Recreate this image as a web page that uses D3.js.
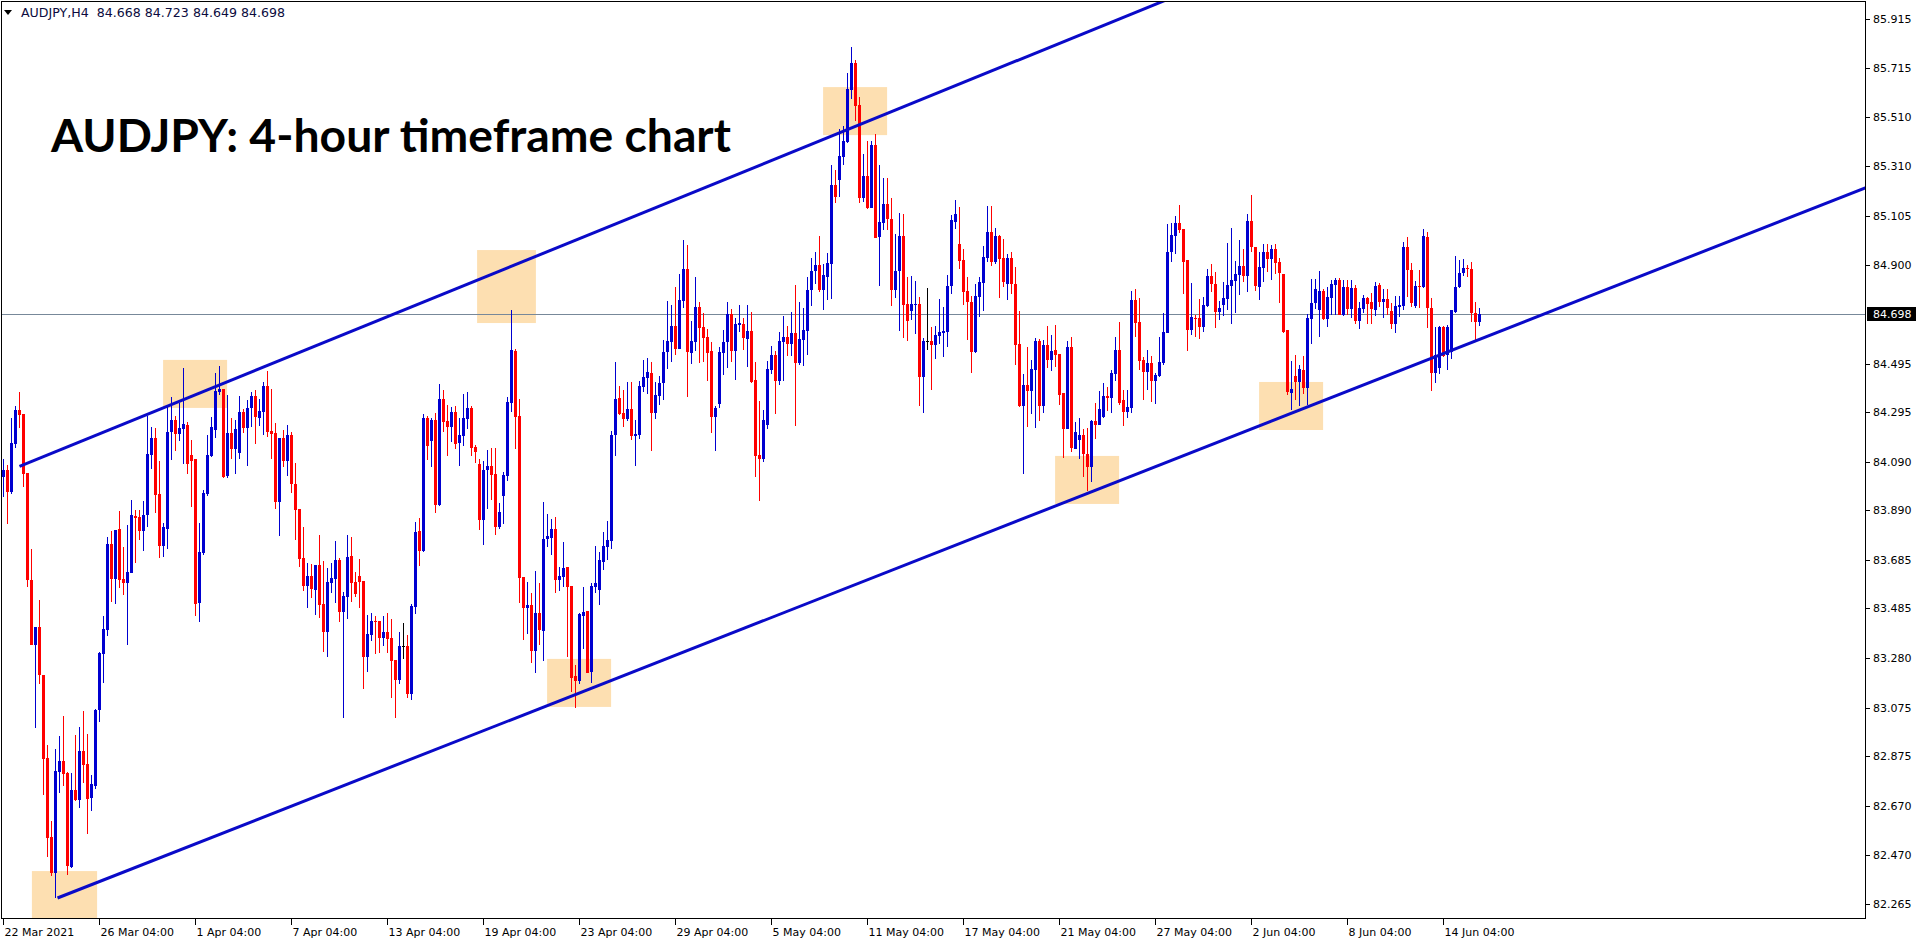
<!DOCTYPE html>
<html><head><meta charset="utf-8">
<script src="https://cdn.jsdelivr.net/npm/d3@7"></script>
<style>html,body{margin:0;padding:0;background:#fff;overflow:hidden}</style>
</head><body><svg id="c" width="1916" height="946"></svg>
<script>
// ---------- DATA ----------
const opens=[
84.027,84.055,83.965,84.164,84.303,84.286,84.044,83.603,83.334,83.409,
83.210,82.868,82.543,82.394,82.811,82.854,82.808,82.418,82.737,82.697,
82.898,82.844,82.704,82.754,83.067,83.298,83.397,83.751,83.606,83.812,
83.606,83.589,83.632,83.866,83.862,83.806,83.870,84.119,84.188,83.957,
83.742,83.814,84.213,84.262,84.204,84.225,84.241,84.118,84.101,83.506,
83.712,83.957,84.114,84.221,84.376,84.389,84.030,84.208,84.143,84.126,
84.295,84.229,84.312,84.361,84.270,84.295,84.402,84.217,84.208,83.924,
84.188,84.093,84.200,83.998,83.895,83.693,83.578,83.619,83.561,83.664,
83.503,83.388,83.590,83.606,83.685,83.470,83.532,83.701,83.594,83.619,
83.598,83.285,83.375,83.433,83.433,83.363,83.388,83.363,83.272,83.190,
83.330,83.330,83.132,83.491,83.804,83.722,84.270,84.175,84.262,83.912,
84.349,84.258,84.233,84.295,84.167,84.196,84.266,84.312,84.151,84.081,
83.850,84.056,84.072,84.039,83.820,83.948,84.031,84.332,84.546,84.278,
83.614,83.486,83.499,83.309,83.466,83.391,83.771,83.775,83.812,83.602,
83.614,83.655,83.577,83.206,83.185,83.453,83.474,83.222,83.573,83.561,
83.676,83.738,83.763,84.200,84.352,84.290,84.266,84.307,84.196,84.200,
84.398,84.435,84.456,84.292,84.361,84.414,84.542,84.583,84.649,84.555,
84.752,84.884,84.538,84.583,84.728,84.645,84.604,84.546,84.274,84.328,
84.538,84.583,84.699,84.546,84.654,84.658,84.596,84.629,84.427,84.117,
84.101,84.241,84.468,84.530,84.423,84.583,84.604,84.575,84.620,84.496,
84.592,84.629,84.798,84.876,84.901,84.798,84.853,84.905,85.231,85.251,
85.346,85.408,85.623,85.734,85.561,85.177,85.268,85.136,85.396,85.016,
85.074,85.152,85.091,84.798,84.876,85.020,84.740,84.711,84.736,84.740,
84.439,84.587,84.587,84.571,84.608,84.620,84.625,84.814,85.078,84.990,
84.922,84.794,84.749,84.544,84.770,84.827,84.931,85.038,84.915,85.021,
84.931,84.825,84.931,84.821,84.576,84.320,84.407,84.381,84.469,84.588,
84.320,84.572,84.511,84.551,84.535,84.374,84.227,84.565,84.144,84.180,
84.201,84.120,84.069,84.260,84.243,84.276,84.363,84.353,84.450,84.551,
84.345,84.297,84.312,84.757,84.667,84.510,84.460,84.499,84.423,84.445,
84.499,84.620,84.953,85.019,85.076,85.050,84.920,84.635,84.684,84.684,
84.647,84.731,84.856,84.821,84.709,84.737,84.763,84.815,84.837,84.862,
84.898,84.854,85.083,84.975,84.811,84.889,84.955,84.925,84.966,84.914,
84.865,84.634,84.374,84.443,84.418,84.468,84.395,84.680,84.744,84.715,
84.794,84.680,84.766,84.818,84.839,84.695,84.809,84.720,84.805,84.671,
84.721,84.766,84.750,84.717,84.817,84.750,84.761,84.710,84.660,84.729,
84.732,84.975,84.879,84.732,84.814,84.809,85.018,84.725,84.457,84.475,
84.645,84.530,84.544,84.709,84.809,84.867,84.887,84.884,84.702,84.668];
const highs=[
84.103,84.075,84.271,84.320,84.377,84.286,84.044,83.731,83.409,83.518,
83.210,82.922,82.609,82.907,82.957,83.043,82.811,82.808,82.964,82.996,
83.064,82.967,82.798,83.071,83.305,83.454,83.779,83.805,83.808,83.887,
83.738,83.829,83.933,83.892,83.892,83.930,84.278,84.235,84.228,84.093,
83.838,84.320,84.356,84.279,84.331,84.477,84.254,84.180,84.101,83.839,
83.975,84.200,84.274,84.457,84.485,84.389,84.365,84.270,84.262,84.361,
84.307,84.345,84.378,84.386,84.349,84.419,84.464,84.390,84.250,84.188,
84.221,84.241,84.213,84.085,83.895,83.821,83.672,83.668,83.664,83.788,
83.681,83.652,83.672,83.763,83.693,83.553,83.788,83.780,83.635,83.689,
83.598,83.458,83.466,83.454,83.433,83.454,83.466,83.441,83.272,83.388,
83.425,83.375,83.503,83.842,83.858,84.287,84.279,84.270,84.291,84.411,
84.386,84.324,84.316,84.320,84.270,84.369,84.378,84.320,84.159,84.101,
84.093,84.138,84.146,84.146,83.919,84.047,84.357,84.715,84.554,84.348,
83.614,83.594,83.548,83.639,83.589,83.924,83.874,83.853,83.862,83.655,
83.759,83.655,83.577,83.251,83.466,83.573,83.474,83.589,83.742,83.717,
83.800,83.845,84.216,84.501,84.402,84.385,84.418,84.418,84.262,84.422,
84.509,84.517,84.501,84.418,84.443,84.592,84.752,84.736,84.810,84.864,
85.004,84.983,84.670,84.851,84.748,84.703,84.637,84.583,84.320,84.563,
84.633,84.748,84.720,84.682,84.736,84.682,84.736,84.707,84.501,84.340,
84.303,84.505,84.567,84.546,84.625,84.691,84.649,84.707,84.818,84.748,
84.724,84.851,84.930,84.954,85.020,84.905,84.950,85.313,85.293,85.462,
85.474,85.693,85.800,85.746,85.594,85.359,85.412,85.412,85.441,85.313,
85.260,85.260,85.177,85.029,85.115,85.111,84.851,84.856,84.835,84.769,
84.600,84.806,84.645,84.649,84.761,84.728,84.860,85.107,85.169,85.140,
84.966,84.851,84.774,84.822,84.851,84.980,85.145,85.145,85.054,85.025,
85.009,84.947,84.955,84.893,84.712,84.452,84.564,84.510,84.601,84.597,
84.592,84.650,84.612,84.654,84.535,84.374,84.588,84.606,84.252,84.272,
84.227,84.231,84.264,84.333,84.382,84.415,84.400,84.469,84.606,84.667,
84.386,84.386,84.794,84.803,84.767,84.524,84.551,84.528,84.458,84.606,
84.702,85.071,85.076,85.104,85.149,85.050,84.924,84.827,84.697,84.760,
84.768,84.884,84.904,84.871,84.753,84.830,84.994,85.052,84.918,85.003,
84.966,85.112,85.190,84.975,84.955,84.988,84.988,84.984,84.987,84.932,
84.865,84.634,84.505,84.530,84.489,84.527,84.698,84.845,84.843,84.876,
84.801,84.809,84.839,84.849,84.849,84.839,84.839,84.839,84.818,84.750,
84.777,84.770,84.784,84.832,84.829,84.802,84.802,84.743,84.773,84.773,
84.996,85.016,84.908,84.835,84.880,85.048,85.038,84.764,84.647,84.649,
84.650,84.655,84.715,84.938,84.924,84.928,84.901,84.915,84.750,84.723];
const lows=[
83.944,83.833,83.958,84.147,84.231,83.987,83.575,83.334,82.993,83.175,
82.716,82.460,82.382,82.290,82.723,82.751,82.386,82.414,82.692,82.663,
82.766,82.553,82.648,82.740,83.018,83.177,83.373,83.511,83.504,83.571,
83.542,83.336,83.632,83.674,83.767,83.721,83.821,84.062,83.880,83.694,
83.699,83.730,84.097,84.134,84.177,84.081,84.039,83.905,83.454,83.429,
83.705,83.950,84.111,84.188,84.365,84.023,84.024,84.101,84.039,84.101,
84.208,84.072,84.233,84.163,84.237,84.200,84.192,84.101,83.895,83.784,
84.068,84.031,83.961,83.767,83.656,83.557,83.487,83.528,83.458,83.446,
83.305,83.286,83.549,83.507,83.429,83.033,83.441,83.512,83.532,83.487,
83.153,83.223,83.351,83.297,83.301,83.330,83.301,83.116,83.033,83.173,
83.277,83.116,83.107,83.462,83.660,83.718,84.097,84.068,83.879,83.907,
84.213,84.114,84.171,84.143,84.072,84.155,84.225,84.114,84.085,83.808,
83.747,83.895,83.932,83.787,83.812,83.833,84.010,84.295,84.142,83.507,
83.354,83.379,83.260,83.218,83.334,83.268,83.738,83.705,83.548,83.556,
83.573,83.284,83.140,83.074,83.173,83.317,83.218,83.177,83.548,83.499,
83.643,83.684,83.730,84.113,84.282,84.233,84.257,84.179,84.072,84.183,
84.377,84.369,84.135,84.267,84.325,84.344,84.472,84.501,84.530,84.555,
84.724,84.357,84.493,84.546,84.497,84.501,84.423,84.208,84.134,84.311,
84.447,84.476,84.501,84.427,84.625,84.550,84.480,84.414,84.027,83.928,
84.089,84.225,84.451,84.286,84.406,84.423,84.526,84.526,84.237,84.489,
84.484,84.530,84.732,84.823,84.790,84.715,84.757,84.761,85.157,85.181,
85.313,85.404,85.585,85.495,85.157,85.161,85.132,85.136,85.012,84.814,
85.045,85.045,84.732,84.765,84.629,84.600,84.587,84.674,84.616,84.319,
84.291,84.550,84.385,84.513,84.575,84.522,84.563,84.781,85.049,84.884,
84.737,84.594,84.455,84.540,84.686,84.713,84.914,84.896,84.906,84.767,
84.812,84.755,84.783,84.487,84.316,84.041,84.235,84.287,84.230,84.260,
84.289,84.478,84.465,84.480,84.322,84.107,84.227,84.132,84.144,84.103,
84.029,83.970,84.007,84.184,84.243,84.272,84.301,84.291,84.421,84.326,
84.239,84.272,84.289,84.606,84.469,84.345,84.386,84.337,84.330,84.438,
84.489,84.619,84.915,84.947,85.032,84.781,84.548,84.614,84.605,84.595,
84.627,84.727,84.792,84.643,84.676,84.689,84.716,84.658,84.704,84.778,
84.830,84.792,84.954,84.796,84.759,84.830,84.873,84.840,84.863,84.746,
84.620,84.367,84.303,84.344,84.320,84.369,84.326,84.575,84.718,84.605,
84.674,84.645,84.695,84.695,84.695,84.691,84.695,84.681,84.658,84.636,
84.704,84.658,84.656,84.691,84.729,84.684,84.695,84.636,84.623,84.685,
84.715,84.771,84.729,84.722,84.725,84.805,84.640,84.383,84.416,84.450,
84.523,84.468,84.512,84.702,84.805,84.856,84.853,84.667,84.594,84.649];
const closes=[
84.055,83.965,84.167,84.303,84.284,84.041,83.603,83.334,83.409,83.209,
82.865,82.538,82.394,82.815,82.854,82.804,82.425,82.737,82.697,82.898,
82.841,82.699,82.763,83.067,83.301,83.400,83.751,83.606,83.808,83.603,
83.592,83.635,83.870,83.858,83.806,83.870,84.122,84.188,83.954,83.742,
83.821,84.213,84.262,84.204,84.229,84.246,84.081,84.094,83.503,83.718,
83.961,84.118,84.232,84.382,84.389,84.026,84.208,84.143,84.225,84.295,
84.229,84.312,84.361,84.274,84.299,84.402,84.213,84.204,83.924,84.188,
84.093,84.200,83.998,83.891,83.689,83.578,83.619,83.565,83.664,83.499,
83.388,83.594,83.611,83.685,83.470,83.536,83.697,83.590,83.545,83.594,
83.285,83.380,83.433,83.429,83.363,83.388,83.359,83.268,83.190,83.330,
83.330,83.132,83.495,83.800,83.722,84.270,84.155,84.262,83.912,84.349,
84.254,84.233,84.295,84.163,84.200,84.270,84.312,84.147,84.130,83.850,
84.056,84.072,84.035,83.820,83.882,84.035,84.336,84.550,84.274,83.610,
83.486,83.499,83.309,83.466,83.396,83.771,83.783,83.812,83.602,83.618,
83.651,83.573,83.198,83.185,83.462,83.470,83.218,83.577,83.589,83.684,
83.742,83.767,84.200,84.348,84.286,84.266,84.307,84.196,84.204,84.402,
84.439,84.460,84.292,84.365,84.414,84.542,84.588,84.649,84.555,84.757,
84.884,84.542,84.588,84.728,84.641,84.600,84.538,84.274,84.311,84.542,
84.583,84.699,84.546,84.658,84.662,84.600,84.629,84.418,84.113,84.101,
84.262,84.472,84.530,84.423,84.588,84.604,84.575,84.620,84.497,84.596,
84.633,84.798,84.876,84.901,84.798,84.860,84.909,85.231,85.181,85.350,
85.412,85.627,85.734,85.557,85.177,85.268,85.136,85.396,85.012,85.078,
85.152,85.091,84.798,84.876,85.020,84.736,84.670,84.740,84.740,84.439,
84.587,84.587,84.571,84.612,84.625,84.629,84.814,85.087,85.111,84.917,
84.792,84.750,84.544,84.774,84.832,84.935,85.038,84.915,85.021,84.926,
84.833,84.931,84.821,84.573,84.320,84.407,84.383,84.473,84.588,84.320,
84.572,84.511,84.547,84.532,84.367,84.227,84.565,84.148,84.213,84.201,
84.120,84.069,84.260,84.243,84.308,84.363,84.353,84.454,84.551,84.334,
84.297,84.316,84.757,84.664,84.507,84.460,84.499,84.421,84.448,84.500,
84.625,84.955,85.025,85.076,85.046,84.915,84.635,84.687,84.680,84.647,
84.737,84.856,84.821,84.709,84.726,84.766,84.819,84.840,84.865,84.898,
84.854,85.083,84.975,84.816,84.893,84.955,84.925,84.966,84.910,84.867,
84.627,84.378,84.390,84.418,84.471,84.395,84.681,84.743,84.801,84.794,
84.680,84.769,84.821,84.839,84.695,84.809,84.720,84.805,84.671,84.722,
84.766,84.740,84.720,84.814,84.750,84.761,84.726,84.660,84.732,84.736,
84.975,84.879,84.746,84.814,84.809,85.021,84.725,84.457,84.530,84.647,
84.527,84.644,84.715,84.809,84.869,84.889,84.884,84.702,84.667,84.698];

const xTickLabels=["22 Mar 2021","26 Mar 04:00","1 Apr 04:00","7 Apr 04:00","13 Apr 04:00","19 Apr 04:00","23 Apr 04:00","29 Apr 04:00","5 May 04:00","11 May 04:00","17 May 04:00","21 May 04:00","27 May 04:00","2 Jun 04:00","8 Jun 04:00","14 Jun 04:00"];
const xTickBars=[0,24,48,72,96,120,144,168,192,216,240,264,288,312,336,360];
const yTickValues=[85.915,85.715,85.510,85.310,85.105,84.900,84.495,84.295,84.090,83.890,83.685,83.485,83.280,83.075,82.875,82.670,82.470,82.265];
const currentPrice=84.698;
const headerText="AUDJPY,H4  84.668 84.723 84.649 84.698";
const titleText="AUDJPY: 4-hour timeframe chart";
// trend lines: [bar index, price]
const upperChannel=[[4,84.071],[300,86.057]];
const lowerChannel=[[13.5,82.291],[470,85.249]];
// highlight zones: bar range and price range
const zoneStartBar=[7.1,39.9,118.4,135.9,204.9,262.9,313.9];
const zoneEndBar  =[23.4,55.9,133.1,151.9,220.9,278.9,329.9];
const zoneHigh=[82.402,84.510,84.963,83.277,85.635,84.114,84.419];
const zoneLow =[82.200,84.312,84.662,83.079,85.437,83.916,84.221];

// ---------- LAYOUT ----------
const W=1916,H=946;
const plot={left:2,top:2,right:1866,bottom:919};
const svg=d3.select("#c");
svg.append("rect").attr("width",W).attr("height",H).attr("fill","#fff");

const x=d3.scaleLinear().domain([-0.875,465.625]).range([0,1866]);
const y=d3.scaleLinear().domain([82.265,85.915]).range([904.3,19.2]);

svg.append("clipPath").attr("id","clip").append("rect")
  .attr("x",plot.left).attr("y",plot.top).attr("width",plot.right-plot.left).attr("height",plot.bottom-plot.top);
const g=svg.append("g").attr("clip-path","url(#clip)");

// zones
const zones=zoneStartBar.map((s,k)=>({s,e:zoneEndBar[k],hi:zoneHigh[k],lo:zoneLow[k]}));
g.selectAll("rect.zone").data(zones).enter().append("rect")
  .attr("x",d=>x(d.s)).attr("width",d=>x(d.e)-x(d.s))
  .attr("y",d=>y(d.hi)).attr("height",d=>y(d.lo)-y(d.hi))
  .attr("fill","#FDDFB1");

// current price line
g.append("line").attr("x1",plot.left).attr("x2",plot.right)
  .attr("y1",Math.round(y(currentPrice))+0.5).attr("y2",Math.round(y(currentPrice))+0.5)
  .attr("stroke","#778899").attr("stroke-width",1);

// candles
const candles=opens.map((o,i)=>({i,o,h:highs[i],l:lows[i],c:closes[i]}));
const col=d=>d.c>d.o?"#0000D0":(d.c<d.o?"#FF0000":"#000000");
const cg=g.append("g").attr("shape-rendering","crispEdges");
cg.selectAll("line.wick").data(candles).enter().append("line")
  .attr("x1",d=>Math.floor(x(d.i))+0.5).attr("x2",d=>Math.floor(x(d.i))+0.5)
  .attr("y1",d=>y(d.h)).attr("y2",d=>y(d.l)).attr("stroke",col).attr("stroke-width",1);
cg.selectAll("rect.body").data(candles).enter().append("rect")
  .attr("x",d=>Math.floor(x(d.i))-1).attr("width",3)
  .attr("y",d=>y(Math.max(d.o,d.c)))
  .attr("height",d=>Math.max(1,Math.abs(y(d.o)-y(d.c))))
  .attr("fill",col);

// channel lines
const line=d3.line().x(d=>x(d[0])).y(d=>y(d[1]));
[upperChannel,lowerChannel].forEach(pts=>{
  g.append("path").attr("d",line(pts)).attr("fill","none")
   .attr("stroke","#0A0AC8").attr("stroke-width",3);
});

// frame
svg.append("rect").attr("x",plot.left-0.5).attr("y",plot.top-0.5)
  .attr("width",plot.right-plot.left).attr("height",plot.bottom-plot.top)
  .attr("fill","none").attr("stroke","#000").attr("stroke-width",1).attr("shape-rendering","crispEdges");

// right price axis
const axisFont="DejaVu Sans";
const ya=svg.append("g");
yTickValues.forEach(v=>{
  const yy=Math.round(y(v))+0.5;
  ya.append("line").attr("x1",plot.right).attr("x2",plot.right+4).attr("y1",yy).attr("y2",yy)
    .attr("stroke","#000").attr("shape-rendering","crispEdges");
  ya.append("text").attr("x",plot.right+7).attr("y",yy).attr("dy","0.35em")
    .attr("font-family",axisFont).attr("font-size",11).attr("fill","#000").text(v.toFixed(3));
});
// current price tag
const cy=Math.round(y(currentPrice));
ya.append("rect").attr("x",plot.right+1).attr("y",cy-7).attr("width",W-plot.right-1).attr("height",14).attr("fill","#000");
ya.append("text").attr("x",plot.right+7).attr("y",cy+0.5).attr("dy","0.35em")
  .attr("font-family",axisFont).attr("font-size",11).attr("fill","#fff").text(currentPrice.toFixed(3));

// bottom time axis
const xa=svg.append("g");
xTickBars.forEach((b,k)=>{
  const xx=Math.floor(x(b))+0.5;
  xa.append("line").attr("x1",xx).attr("x2",xx).attr("y1",plot.bottom).attr("y2",plot.bottom+6)
    .attr("stroke","#000").attr("shape-rendering","crispEdges");
  xa.append("text").attr("x",xx+1).attr("y",plot.bottom+17)
    .attr("font-family",axisFont).attr("font-size",11).attr("fill","#000").text(xTickLabels[k]);
});

// header
svg.append("path").attr("d","M4,10 L12,10 L8,15 Z").attr("fill","#000");
svg.append("text").attr("x",21).attr("y",17).attr("font-family",axisFont).attr("font-size",12.6)
  .attr("fill","#0c0c40").attr("xml:space","preserve").style("white-space","pre").text(headerText);

// title
const t=svg.append("text").attr("x",51).attr("y",152).attr("font-family","Lato")
  .attr("font-weight",700).attr("font-size",46).attr("fill","#000").text(titleText);
const tw=t.node().getComputedTextLength();
t.attr("font-size",46*680/tw);
</script></body></html>
